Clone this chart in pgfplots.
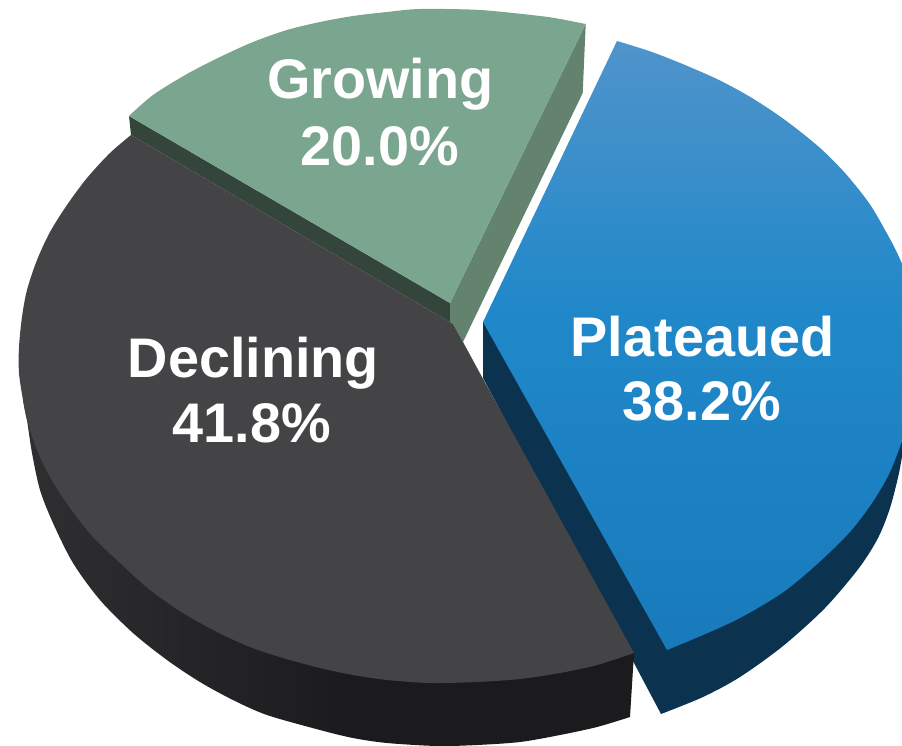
\documentclass[border=0pt]{standalone}
\usepackage{pgfplots}
\pgfplotsset{compat=1.18}
\usepackage{fontspec}
\setmainfont{Liberation Sans}
\definecolor{greentop}{HTML}{7AA58F}
\definecolor{greenside}{HTML}{63836F}
\definecolor{greenedge}{HTML}{34453B}
\definecolor{darktop}{HTML}{444345}
\definecolor{blueside}{HTML}{0B3350}
\definecolor{bluehi}{HTML}{5094CB}
\definecolor{bluemid}{HTML}{2088C9}
\definecolor{bluelo}{HTML}{187ABB}
\definecolor{darkl}{HTML}{2F2E30}
\definecolor{darkr}{HTML}{1B1A1C}
\pgfdeclareverticalshading{bluegrad}{100bp}{color(0bp)=(bluelo); color(25bp)=(bluelo); color(53bp)=(bluemid); color(75bp)=(bluehi); color(100bp)=(bluehi)}
\pgfdeclarehorizontalshading{darkgrad}{100bp}{color(0bp)=(darkl); color(25bp)=(darkl); color(52bp)=(darkr); color(100bp)=(darkr)}
\tikzset{lbl/.style={text=white, font=\fontsize{56}{66}\selectfont\bfseries, anchor=base, inner sep=0pt}}
\begin{document}
\begin{tikzpicture}
\useasboundingbox (0,0) rectangle (902bp,746bp);
\begin{axis}[
  scale only axis, width=902bp, height=746bp,
  xmin=0, xmax=902, ymin=0, ymax=746, y dir=reverse,
  hide axis,
]
% Plateaued: side, then top
\addplot[draw=none, fill=blueside, smooth] coordinates {
  (661,714) (703,697) (740,677) (783,646) (825,608) (859,568)
  (878,538) (890,508) (899,473) (905,440) (915,400)
} -- (axis cs:600,400) -- (axis cs:483,322) -- (axis cs:483,378) -- cycle;
\addplot[draw=none, smooth, shade, shading=bluegrad] coordinates {
  (667,650) (703,635) (740,618) (782,593) (815,566) (849,533) (872,503)
  (889,474) (902,441) (915,400) (922,350) (916,300) (899,257) (885,230) (869,203) (845,173) (819,147)
  (785,120) (752,98) (719,80) (685,65) (652,52) (617,41)
} -- (axis cs:483,322) -- cycle;
% Growing: edge strip, side, top
\addplot[draw=none, fill=greenedge] coordinates {
  (129,116) (450,303) (450,322) (453,324) (131,135) (129,116)
};
\addplot[draw=none, fill=greenside] coordinates {
  (450,303) (585.7,24) (582.7,93) (463,342) (453,324) (450,322) (450,303)
};
\addplot[draw=none, fill=greentop, smooth] coordinates {
  (129,116) (153,95) (187,74) (220,57) (253,42) (287,30) (320,22) (353,16) (387,12)
  (420,9) (480,10) (540,16) (560,19) (585.7,24)
} -- (axis cs:450,303) -- cycle;
% Declining: side, then top
\addplot[draw=none, smooth, shade, shading=darkgrad] coordinates {
  (23,400) (27,420) (32,453) (40,490) (53,523) (73,563) (100,600) (133,633) (167,660) (200,682)
  (233,700) (267,715) (320,730) (353,738) (387,743) (437,746) (477,745) (520,742)
  (560,735) (597,727) (630,717)
} -- (axis cs:634,653) -- (axis cs:400,500) -- cycle;
\addplot[draw=none, fill=darktop, smooth] coordinates {
  (634,653) (597,665) (560,673) (520,679)
  (477,682) (430,683) (387,680) (353,675) (320,668) (283,658) (250,647) (217,632)
  (183,613) (150,590) (120,563) (93,537) (70,508) (50,477) (37,450) (27,420) (23,400)
  (19,373) (19,347) (22,317) (27,290) (37,260) (50,232) (67,205) (87,178) (110,153)
  (131,135)
} -- (axis cs:453,324) -- (axis cs:463,342) -- (axis cs:482,377) -- cycle;
\node[lbl] at (axis cs:380.5,99) {Growing};
\node[lbl] at (axis cs:380,165) {20.0\%};
\node[lbl] at (axis cs:253.5,377) {Declining};
\node[lbl] at (axis cs:252,442) {41.8\%};
\node[lbl] at (axis cs:702.5,356) {Plateaued};
\node[lbl] at (axis cs:702,420) {38.2\%};
\end{axis}
\end{tikzpicture}
\end{document}
